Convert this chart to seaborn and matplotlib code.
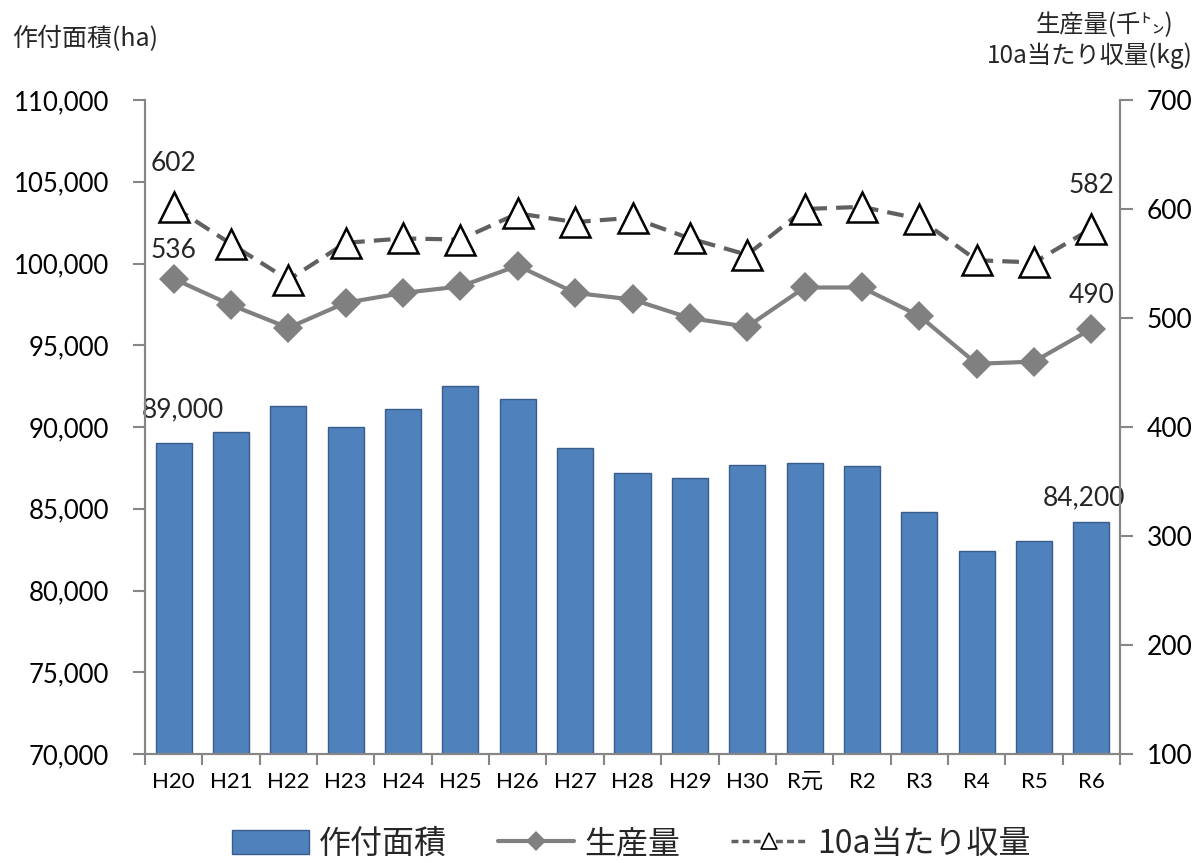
import matplotlib
matplotlib.use("Agg")
import matplotlib.pyplot as plt
import seaborn as sns
import pandas as pd
from matplotlib.patches import Patch
from matplotlib.lines import Line2D
from matplotlib.ticker import FuncFormatter, FixedLocator

# ---- data ----
years = ["H20", "H21", "H22", "H23", "H24", "H25", "H26", "H27", "H28",
         "H29", "H30", "R元", "R2", "R3", "R4", "R5", "R6"]
area = [89000, 89700, 91300, 90000, 91100, 92500, 91700, 88700, 87200,
        86900, 87700, 87800, 87600, 84800, 82400, 83000, 84200]
production = [536, 512, 491, 514, 523, 529, 548, 523, 517,
              500, 492, 528, 528, 502, 458, 460, 490]
yield_10a = [602, 568, 535, 569, 573, 572, 596, 588, 592,
             573, 558, 600, 602, 591, 553, 551, 582]

sns.set_theme(style="white")
plt.rcParams["font.family"] = ["Lato", "Noto Sans CJK JP", "DejaVu Sans"]
cjk = ["Noto Sans CJK JP", "DejaVu Sans"]

df = pd.DataFrame({"year": years, "area": area,
                   "production": production, "yield": yield_10a})

fig = plt.figure(figsize=(11.96, 8.63), dpi=100)
ax = fig.add_axes([0.1212, 0.1263, 0.8153, 0.7578])

bar_color = "#4F81BD"
sns.barplot(data=df, x="year", y="area", order=years, color=bar_color,
            saturation=1, width=0.63, edgecolor="#385d8a", linewidth=1.0, ax=ax)

ax.set_ylim(70000, 110000)
ax.set_yticks(range(70000, 110001, 5000))
ax.yaxis.set_major_formatter(FuncFormatter(lambda v, p: f"{int(v):,}"))
ax.set_xlim(-0.5, len(years) - 0.5)
ax.set_xlabel("")
ax.set_ylabel("")

ax2 = ax.twinx()
sns.pointplot(data=df, x="year", y="production", order=years, ax=ax2,
              color="#808080", markers="D", linestyles="-", errorbar=None,
              markersize=15, linewidth=3, markeredgewidth=0)
sns.pointplot(data=df, x="year", y="yield", order=years, ax=ax2,
              color="#606060", markers="^", linestyles="--", errorbar=None,
              markersize=21, linewidth=3, markerfacecolor="white",
              markeredgecolor="black", markeredgewidth=1.8)
for ln in ax2.lines:
    if ln.get_linestyle() == "--":
        ln.set_dashes([4, 2.2])
ax2.set_ylim(100, 700)
ax2.set_yticks(range(100, 701, 100))
ax2.set_xlim(-0.5, len(years) - 0.5)
ax2.set_ylabel("")
ax2.set_xlabel("")

spine_color = "#868686"
for a in (ax, ax2):
    for s in a.spines.values():
        s.set_color(spine_color)
        s.set_linewidth(1.5)
    a.grid(False)
ax2.spines["top"].set_visible(False)
ax.spines["top"].set_visible(False)

ax.tick_params(axis="y", which="major", direction="out", length=9, width=1.5,
               color=spine_color, labelsize=18.5, pad=17, labelcolor="black")
ax2.tick_params(axis="y", which="major", direction="out", length=9, width=1.5,
                color=spine_color, labelsize=19, pad=10, labelcolor="black")

ax.set_xticks(range(len(years)))
ax.set_xticklabels(years)
ax.xaxis.set_minor_locator(FixedLocator([i - 0.5 for i in range(len(years) + 1)]))
ax.tick_params(axis="x", which="major", length=0, labelsize=16, pad=13,
               labelcolor="black")
ax.tick_params(axis="x", which="minor", direction="out", length=8, width=1.5,
               color=spine_color, bottom=True)
ax2.tick_params(axis="x", which="both", length=0, labelbottom=False)

# data labels
lab_fs = 19
ax.annotate("89,000", (0, area[0]), xytext=(7, 15), textcoords="offset points",
            ha="center", va="bottom", fontsize=lab_fs)
ax.annotate("84,200", (16, area[16]), xytext=(-5, 8), textcoords="offset points",
            ha="center", va="bottom", fontsize=lab_fs)
ax2.annotate("536", (0, production[0]), xytext=(0, 11), textcoords="offset points",
             ha="center", va="bottom", fontsize=lab_fs)
ax2.annotate("490", (16, production[16]), xytext=(0, 15), textcoords="offset points",
             ha="center", va="bottom", fontsize=lab_fs)
ax2.annotate("602", (0, yield_10a[0]), xytext=(0, 22), textcoords="offset points",
             ha="center", va="bottom", fontsize=lab_fs)
ax2.annotate("582", (16, yield_10a[16]), xytext=(0, 22), textcoords="offset points",
             ha="center", va="bottom", fontsize=lab_fs)

# axis titles
fig.text(0.010, 0.955, "作付面積(ha)", fontsize=18, ha="left", va="center",
         family=cjk)
fig.text(0.981, 0.971, "生産量(千㌧)", fontsize=17.5, ha="right", va="center",
         family=cjk)
fig.text(0.997, 0.936, "10a当たり収量(kg)", fontsize=17.5, ha="right", va="center",
         family=cjk)

# legend
handles = [
    Patch(facecolor=bar_color, edgecolor="#385d8a", linewidth=1.0),
    Line2D([], [], color="#808080", lw=3, marker="D", markersize=10,
           markeredgewidth=0),
    Line2D([], [], color="#606060", lw=2.5, linestyle=(0, (2, 1.2)), marker="^",
           markersize=12, markerfacecolor="white", markeredgecolor="black",
           markeredgewidth=1.2),
]
labels = ["作付面積", "生産量", "10a当たり収量"]
fig.legend(handles, labels, loc="center", bbox_to_anchor=(0.528, 0.022),
           ncol=3, frameon=False, handlelength=2.4,
           handleheight=0.8, columnspacing=1.6, handletextpad=0.3,
           prop={"family": cjk, "size": 23})

fig.savefig("out.png", dpi=100)
